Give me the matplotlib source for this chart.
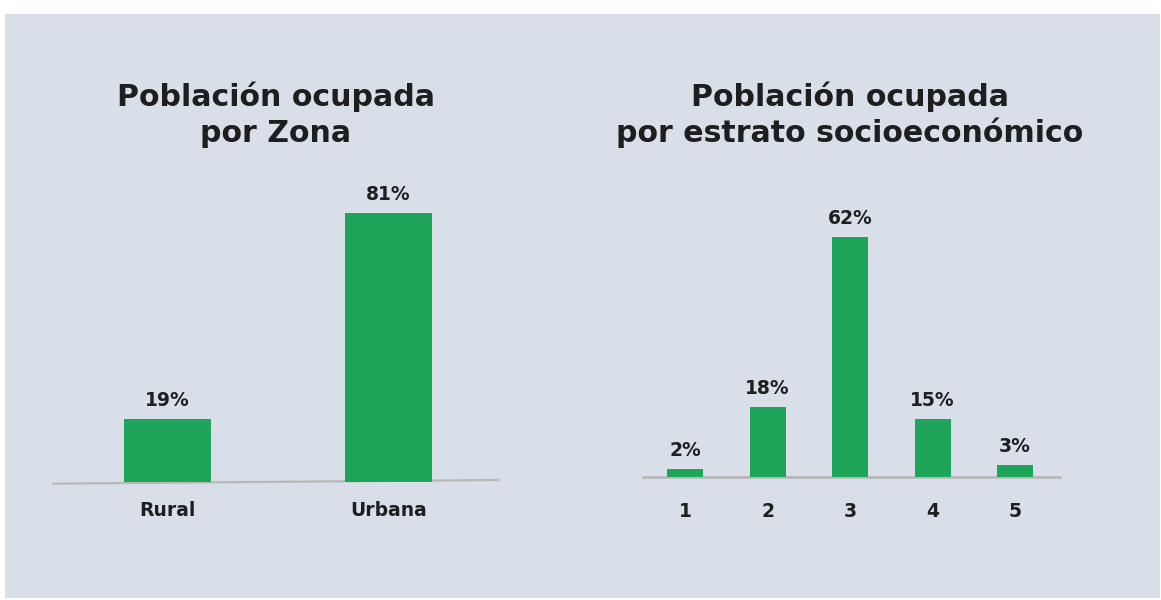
import matplotlib
matplotlib.use("Agg")
import matplotlib.pyplot as plt
from matplotlib.patches import Rectangle

# data
zona_labels = ["Rural", "Urbana"]
zona_values = [19, 81]
estrato_labels = ["1", "2", "3", "4", "5"]
estrato_values = [2, 18, 62, 15, 3]

GREEN = "#1ea55a"
PANEL = "#d9dfe8"
TEXT = "#1e1e1e"
LINE = "#b8b8b8"

W, H = 1161, 600
fig = plt.figure(figsize=(W / 100, H / 100), dpi=100)
fig.patch.set_facecolor("white")


def px(x0, y0, x1, y1):
    # pixel box (top-left origin) -> figure fraction rect
    return [x0 / W, (H - y1) / H, (x1 - x0) / W, (y1 - y0) / H]


# grey-blue panel behind everything
fig.patches.append(Rectangle((5 / W, (H - 598) / H), 1155 / W, 584 / H,
                             transform=fig.transFigure, facecolor=PANEL,
                             edgecolor="none", zorder=-10))

plt.rcParams["font.family"] = ["DejaVu Sans"]


def title(cx, lines):
    fig.text(cx / W, (H - 106) / H, lines[0], ha="center", va="baseline",
             fontsize=21.6, fontweight="bold", color=TEXT)
    fig.text(cx / W, (H - 142) / H, lines[1], ha="center", va="baseline",
             fontsize=21.6, fontweight="bold", color=TEXT)


def bars(ax, labels, values, width, pad):
    xs = list(range(len(values)))
    ax.bar(xs, values, width=width, color=GREEN, zorder=3)
    for x, v in zip(xs, values):
        ax.annotate("%d%%" % v, xy=(x, v), xytext=(0, 9.5), textcoords="offset points",
                    ha="center", va="baseline", fontsize=13.5, fontweight="bold",
                    color=TEXT)
    ax.set_xticks(xs)
    ax.set_xticklabels(labels, fontsize=13.5, fontweight="bold", color=TEXT)
    ax.tick_params(axis="x", length=0, pad=pad)
    ax.set_yticks([])
    ax.set_facecolor("none")
    for s in ax.spines.values():
        s.set_visible(False)
    ax.set_ylim(0, 100)


# left chart: por zona
ax1 = fig.add_axes(px(53, 150, 498, 482))
bars(ax1, zona_labels, zona_values, 0.394, 14)
ax1.set_xlim(-0.518, 1.495)
ax1.plot([0, 1], [-0.005, 0.006], transform=ax1.transAxes, color=LINE,
         lw=1.6, clip_on=False, zorder=1)
title(276, ["Población ocupada", "por Zona"])

# right chart: por estrato
ax2 = fig.add_axes(px(643, 90, 1060, 477))
bars(ax2, estrato_labels, estrato_values, 0.436, 18)
ax2.set_xlim(-0.51, 4.545)
ax2.plot([0, 1], [0, 0], transform=ax2.transAxes, color=LINE,
         lw=2, clip_on=False, zorder=1)
title(850, ["Población ocupada", "por estrato socioeconómico"])

fig.savefig("out.png", dpi=100, facecolor=fig.get_facecolor())
